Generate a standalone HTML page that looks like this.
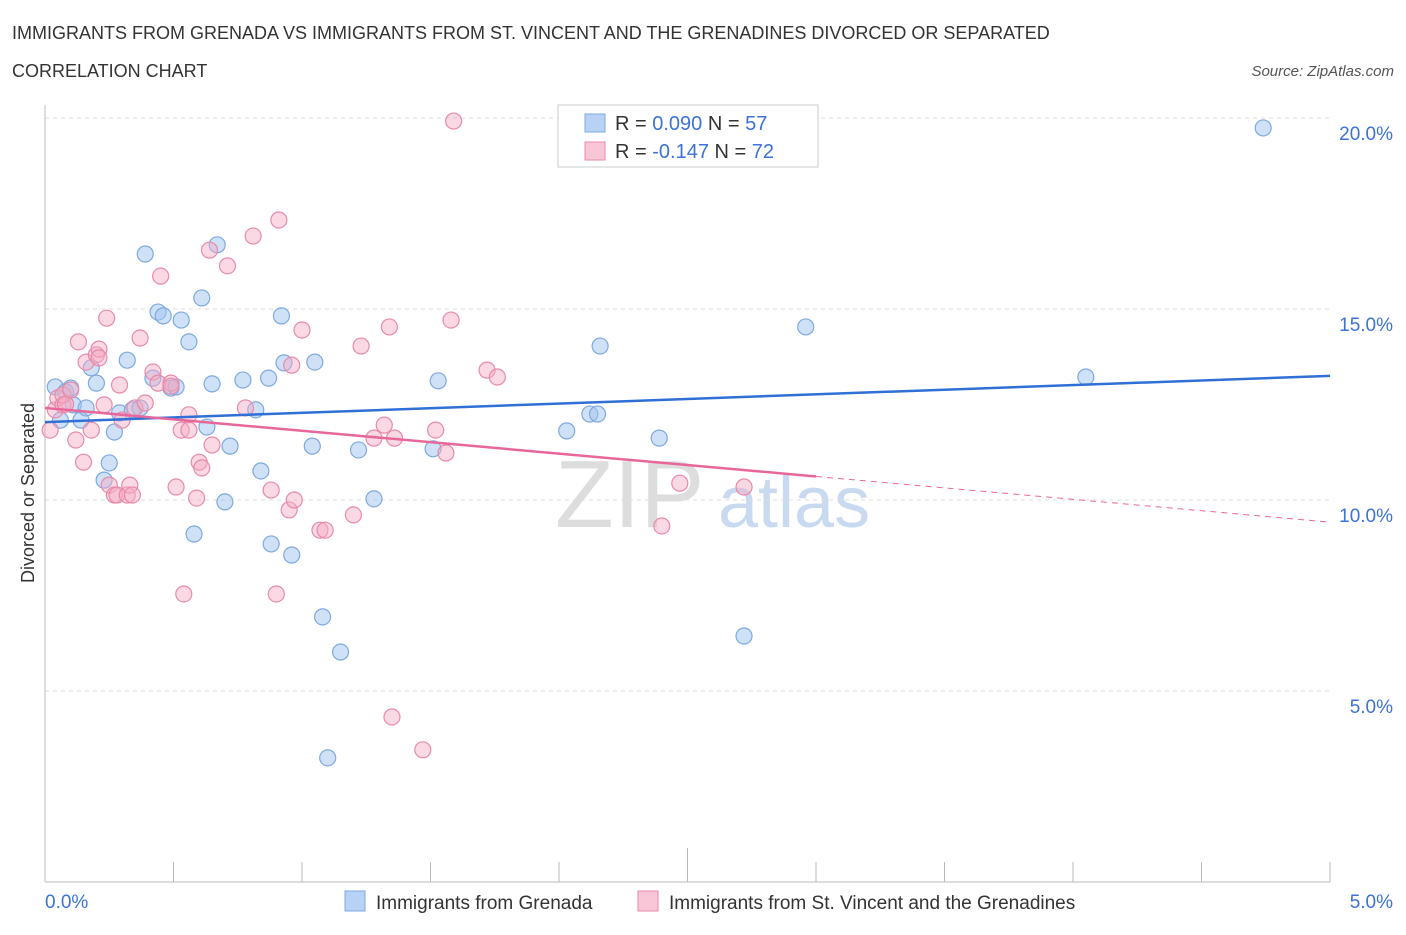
<!DOCTYPE html>
<html><head><meta charset="utf-8"><style>
body{margin:0;background:#fff;font-family:"Liberation Sans",sans-serif;}
svg text{font-family:"Liberation Sans",sans-serif;}
</style></head><body>
<svg id="chart" width="1406" height="930">
<text x="12" y="39" font-size="18" fill="#333">IMMIGRANTS FROM GRENADA VS IMMIGRANTS FROM ST. VINCENT AND THE GRENADINES DIVORCED OR SEPARATED</text>
<text x="12" y="77" font-size="18" fill="#333">CORRELATION CHART</text>
<text x="1394" y="76" font-size="15" font-style="italic" fill="#555" text-anchor="end">Source: ZipAtlas.com</text>
<text x="555" y="527" font-size="96" font-family="Liberation Serif" fill="#ddd">ZIP</text>
<text x="718" y="527" font-size="72" fill="#c9daf0">atlas</text>
<text transform="translate(34,493) rotate(-90)" font-size="18" fill="#333" text-anchor="middle">Divorced or Separated</text>
<g id="grid"></g><g id="marks"></g>
<g>
<rect x="558" y="105" width="260" height="62" fill="#fff" stroke="#ccc"/>
<rect x="585" y="114" width="20" height="18" fill="#b8d2f5" stroke="#7fa9e0"/>
<text x="615" y="130" font-size="20" fill="#333">R = <tspan fill="#3b73d6">0.090</tspan>   N = <tspan fill="#3b73d6">57</tspan></text>
<rect x="585" y="142" width="20" height="18" fill="#f8c6d6" stroke="#e88aa9"/>
<text x="615" y="158" font-size="20" fill="#333">R = <tspan fill="#3b73d6">-0.147</tspan>   N = <tspan fill="#3b73d6">72</tspan></text>
</g>
<g>
<rect x="345" y="891" width="20" height="20" fill="#b8d2f5" stroke="#7fa9e0"/>
<text x="376" y="909" font-size="19" fill="#333">Immigrants from Grenada</text>
<rect x="638" y="891" width="20" height="20" fill="#f8c6d6" stroke="#e88aa9"/>
<text x="669" y="909" font-size="19" fill="#333">Immigrants from St. Vincent and the Grenadines</text>
</g>
</svg>
<script>
const xTicks=[0,0.5,1,1.5,2,2.5,3,3.5,4,4.5,5];
const yTicks=[5,10,15,20];
const yTickLabels=["5.0%","10.0%","15.0%","20.0%"];
const xEndLabels=["0.0%","5.0%"];
const blueX=[0.04,0.06,0.08,0.10,0.11,0.14,0.16,0.18,0.20,0.23,0.25,0.27,0.29,0.32,0.34,0.37,0.39,0.42,0.44,0.46,0.49,0.51,0.53,0.56,0.58,0.61,0.63,0.65,0.67,0.70,0.72,0.77,0.82,0.84,0.87,0.88,0.92,0.93,0.96,1.04,1.05,1.08,1.10,1.15,1.22,1.28,1.51,1.53,2.03,2.12,2.15,2.16,2.39,2.72,2.96,4.05,4.74];
const blueY=[12.96,12.09,12.83,12.93,12.49,12.09,12.41,13.46,13.06,10.52,10.97,11.78,12.28,13.66,12.36,12.41,16.44,13.19,14.92,14.82,12.93,12.96,14.71,14.14,9.11,15.29,11.91,13.04,16.68,9.95,11.41,13.14,12.36,10.76,13.19,8.85,14.82,13.59,8.56,11.41,13.61,6.94,3.25,6.02,11.31,10.03,11.34,13.12,11.81,12.25,12.25,14.03,11.62,6.44,14.53,13.22,19.74];
const pinkX=[0.02,0.04,0.05,0.07,0.07,0.08,0.10,0.12,0.13,0.15,0.16,0.18,0.20,0.21,0.21,0.23,0.24,0.25,0.27,0.28,0.29,0.30,0.32,0.33,0.34,0.35,0.37,0.39,0.42,0.44,0.45,0.49,0.49,0.51,0.53,0.54,0.56,0.56,0.59,0.60,0.61,0.64,0.65,0.71,0.78,0.81,0.88,0.90,0.91,0.95,0.96,0.97,1.00,1.07,1.09,1.20,1.23,1.28,1.32,1.34,1.35,1.36,1.47,1.52,1.56,1.58,1.59,1.72,1.76,2.40,2.47,2.72];
const pinkY=[11.83,12.36,12.67,12.49,12.75,12.51,12.88,11.57,14.14,10.99,13.61,11.83,13.80,13.95,13.72,12.49,14.76,10.39,10.13,10.13,13.01,12.09,10.13,10.39,10.13,12.41,14.24,12.54,13.35,13.06,15.86,13.06,12.98,10.34,11.83,7.54,12.23,11.83,10.05,10.99,10.84,16.54,11.44,16.13,12.41,16.91,10.26,7.54,17.33,9.74,13.53,10.00,14.45,9.21,9.21,9.61,14.03,11.62,11.96,14.53,4.32,11.62,3.46,11.83,11.23,14.71,19.92,13.40,13.22,9.32,10.44,10.34];
const blueTrend=[12.04,13.25];
const pinkTrend=[12.41,9.42];
const pinkSolidEnd=3.0;
const X=v=>45+v/5*1285, Y=v=>882-v*38.2;
const NS="http://www.w3.org/2000/svg";
const grid=document.getElementById('grid'), marks=document.getElementById('marks');
function mk(p,tag,a){const e=document.createElementNS(NS,tag);for(const k in a)e.setAttribute(k,a[k]);p.appendChild(e);return e;}
yTicks.forEach((t,i)=>{
 const l=mk(grid,'line',{x1:45,x2:1330,y1:Y(t),y2:Y(t),stroke:'#ddd','stroke-dasharray':'4 4'});
 
 
 const tx=mk(grid,'text',{x:1393,y:Y(t)+22,'font-size':19,fill:'#3b73d6','text-anchor':'end'});tx.textContent=yTickLabels[i];
 
 
});
mk(grid,'line',{x1:45,x2:45,y1:105,y2:882,stroke:'#bbb'});
mk(grid,'line',{x1:45,x2:1330,y1:882,y2:882,stroke:'#bbb'});
xTicks.forEach(t=>{
 const tk=mk(grid,'line',{x1:X(t),x2:X(t),y1:(t===2.5?848:862),y2:882,stroke:'#bbb'});
 
 
});
[[0,'start',45],[5,'end',1393]].forEach((d,i)=>{
 const tx=mk(grid,'text',{x:d[2],y:908,'font-size':19,fill:'#3b73d6','text-anchor':d[1]});tx.textContent=xEndLabels[i];
 
 
});
blueX.forEach((x,i)=>{
 const c=mk(marks,'circle',{cx:X(x),cy:Y(blueY[i]),r:8,fill:'rgba(160,195,240,0.5)',stroke:'#7fa9e0','stroke-width':1.2});
 
 
});
pinkX.forEach((x,i)=>{
 const c=mk(marks,'circle',{cx:X(x),cy:Y(pinkY[i]),r:8,fill:'rgba(245,170,195,0.45)',stroke:'#e88aa9','stroke-width':1.2});
 
 
});
const py=v=>pinkTrend[0]+(pinkTrend[1]-pinkTrend[0])*v/5;
const bt=mk(marks,'line',{x1:X(0),y1:Y(blueTrend[0]),x2:X(5),y2:Y(blueTrend[1]),stroke:'#2f6fd6','stroke-width':2.5});


const pt=mk(marks,'line',{x1:X(0),y1:Y(py(0)),x2:X(pinkSolidEnd),y2:Y(py(pinkSolidEnd)),stroke:'#e8679a','stroke-width':2.5});


const pd=mk(marks,'line',{x1:X(pinkSolidEnd),y1:Y(py(pinkSolidEnd)),x2:X(5),y2:Y(py(5)),stroke:'#e8679a','stroke-width':1,'stroke-dasharray':'6 5'});


</script>
</body></html>
